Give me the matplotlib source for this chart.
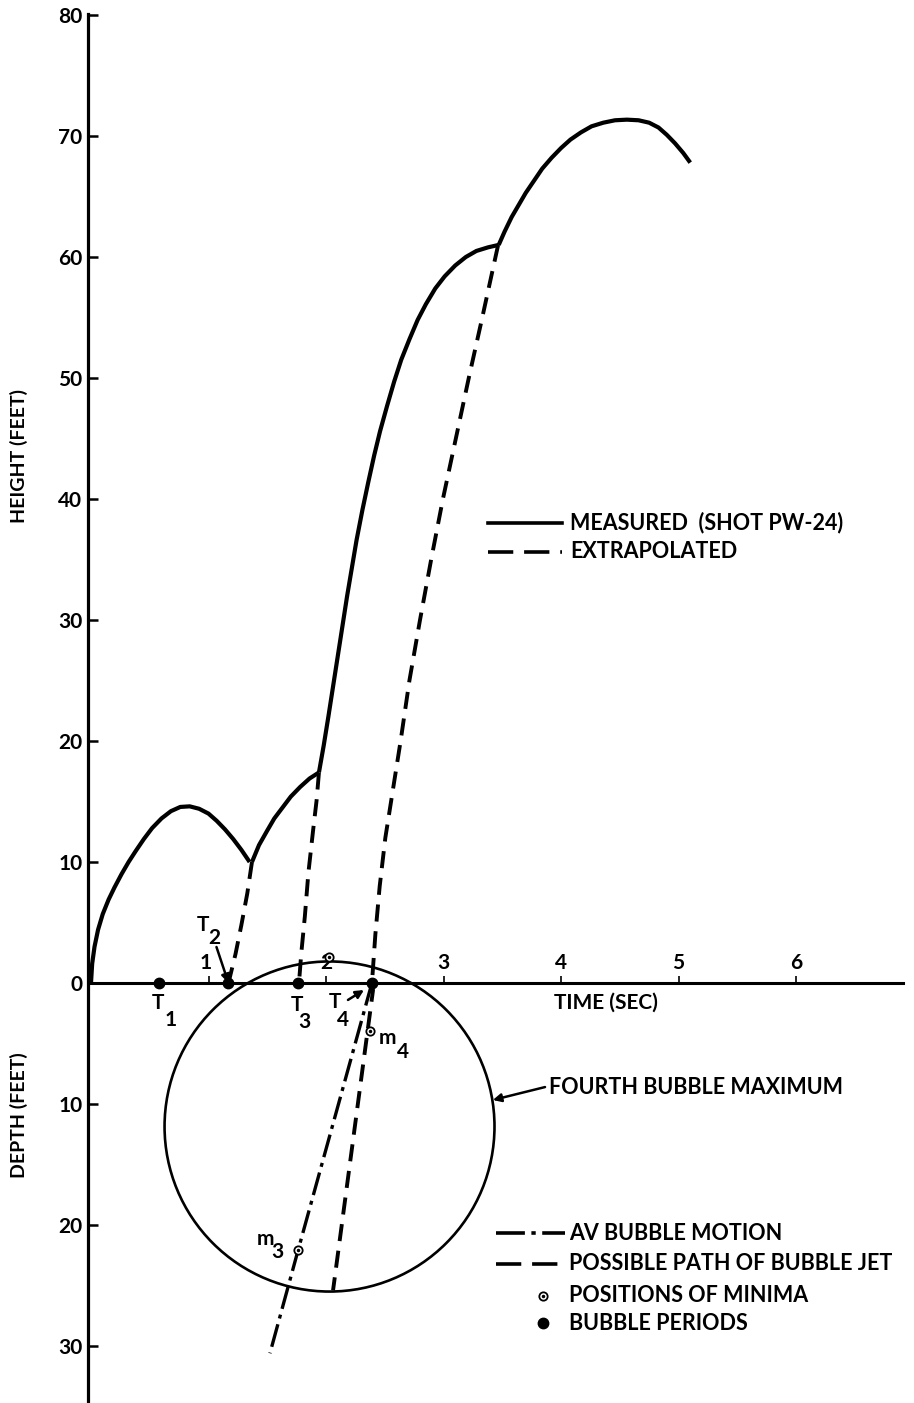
import matplotlib
matplotlib.use("Agg")
import matplotlib.pyplot as plt
from matplotlib.lines import Line2D
from matplotlib.patches import Ellipse
from matplotlib.ticker import FuncFormatter

plt.rcParams['font.family'] = ['Lato', 'DejaVu Sans']
plt.rcParams['font.weight'] = 'bold'

# measured surface height (time in sec, height in ft)
meas1_t = [0.0, 0.01, 0.03, 0.06, 0.10, 0.15, 0.20, 0.26, 0.32, 0.38, 0.45, 0.52, 0.60,
           0.68, 0.76, 0.84, 0.92, 1.00, 1.07, 1.14, 1.21, 1.28, 1.35]
meas1_h = [0.0, 1.6, 3.0, 4.4, 5.7, 6.9, 7.9, 9.0, 10.0, 10.9, 11.9, 12.8, 13.6,
           14.2, 14.55, 14.6, 14.4, 14.0, 13.4, 12.7, 11.9, 11.0, 10.0]
meas2_t = [1.37, 1.43, 1.50, 1.56, 1.63, 1.70, 1.78, 1.86, 1.94]
meas2_h = [10.0, 11.4, 12.6, 13.6, 14.5, 15.4, 16.2, 16.9, 17.4]
meas3_t = [1.94, 1.98, 2.02, 2.06, 2.10, 2.14, 2.18, 2.22, 2.26, 2.31, 2.36, 2.41, 2.46,
           2.52, 2.58, 2.64, 2.71, 2.78, 2.85, 2.93, 3.01, 3.10, 3.19, 3.28, 3.38, 3.47]
meas3_h = [17.4, 19.6, 22.0, 24.5, 27.0, 29.5, 32.0, 34.3, 36.6, 39.1, 41.4, 43.6, 45.6,
           47.7, 49.7, 51.5, 53.2, 54.8, 56.1, 57.4, 58.4, 59.3, 60.0, 60.5, 60.8, 61.0]
meas4_t = [3.47, 3.52, 3.58, 3.64, 3.70, 3.77, 3.84, 3.92, 4.00, 4.08, 4.17, 4.26, 4.36,
           4.46, 4.56, 4.66, 4.75, 4.83, 4.90, 4.97, 5.04, 5.10]
meas4_h = [61.0, 62.1, 63.3, 64.3, 65.3, 66.3, 67.3, 68.2, 69.0, 69.7, 70.3, 70.8, 71.1,
           71.3, 71.35, 71.3, 71.1, 70.7, 70.1, 69.4, 68.6, 67.8]

# extrapolated branches back to the bubble periods
ext2_t = [1.37, 1.33, 1.28, 1.23, 1.17]
ext2_h = [10.0, 7.4, 4.8, 2.4, 0.0]
ext3_t = [1.94, 1.92, 1.89, 1.85, 1.82, 1.79, 1.77]
ext3_h = [17.4, 15.1, 12.6, 9.1, 5.5, 2.5, 0.0]
ext4_t = [3.465, 3.33, 3.215, 3.105, 2.995, 2.895, 2.80, 2.71, 2.635, 2.57, 2.505, 2.457,
          2.42, 2.391]
ext4_h = [61.0, 55.0, 50.0, 45.0, 40.0, 35.0, 30.0, 25.0, 20.0, 16.0, 12.0, 8.0, 4.0, 0.0]

# jet path and average bubble motion below the surface
jet_t = [2.391, 2.40, 2.06]
jet_h = [0.0, -0.6, -25.4]
av_t = [2.391, 1.762, 1.523]
av_h = [0.0, -22.1, -30.6]

# bubble periods T1..T4 and minima m3, m4
period_t = [0.58, 1.17, 1.76, 2.391]
period_h = [0.0, 0.0, 0.0, 0.0]
minima_t = [1.762, 2.374, 2.026]
minima_h = [-22.1, -4.0, 2.15]

# fourth bubble maximum (centre time, centre height, radii)
bub_t, bub_h = 2.03, -11.86
bub_rt, bub_rh = 1.404, 13.64

height_ticks = [-30, -20, -10, 0, 10, 20, 30, 40, 50, 60, 70, 80]
time_ticks = [1, 2, 3, 4, 5, 6]

W, H = 914, 1403
fig = plt.figure(figsize=(W / 100, H / 100), dpi=100)
ax = fig.add_axes([88 / W, 0, 815 / W, 1389 / H])
ax.set_xlim(-3 / 117.5, 812 / 117.5)
ax.set_ylim(-(H - 983) / 12.1, (983 - 14) / 12.1)

for s in ['top', 'right']:
    ax.spines[s].set_visible(False)
ax.spines['left'].set_linewidth(2.3)
ax.spines['bottom'].set_position(('data', 0))
ax.spines['bottom'].set_linewidth(2.2)
ax.spines['bottom'].set_bounds(0, 812 / 117.5)

ax.set_yticks(height_ticks)
ax.yaxis.set_major_formatter(FuncFormatter(lambda v, p: f"{abs(v):.0f}"))
ax.tick_params(axis='y', direction='in', length=7, width=1.8, pad=4, labelsize=15)
ax.set_xticks(time_ticks)
ax.tick_params(axis='x', direction='in', length=5, width=1.2, labelbottom=False)
for t in time_ticks:
    ax.annotate(str(t), (t, 0), xytext=(-3 if t == 1 else 0, 20), textcoords='offset pixels',
                ha='center', va='center', fontsize=15)

# curves
lw_solid = 3.0
for tt, hh in [(meas1_t, meas1_h), (meas2_t, meas2_h), (meas3_t, meas3_h), (meas4_t, meas4_h)]:
    ax.plot(tt, hh, color='black', lw=lw_solid, solid_capstyle='butt', solid_joinstyle='round')

dash = (4.4, 2.5)
for tt, hh in [(ext2_t, ext2_h), (ext3_t, ext3_h), (ext4_t + jet_t[1:], ext4_h + jet_h[1:])]:
    ax.plot(tt, hh, color='black', lw=2.8, dashes=dash, dash_capstyle='butt')

dashdot = (7, 1.8, 1.2, 1.8)
ax.plot(av_t, av_h, color='black', lw=2.4, dashes=dashdot, dash_capstyle='butt')

ax.add_patch(Ellipse((bub_t, bub_h), 2 * bub_rt, 2 * bub_rh, fill=False, lw=1.9, ec='black'))

ax.plot(period_t, period_h, 'o', color='black', ms=7.5, zorder=5)
ax.plot(minima_t, minima_h, 'o', mfc='white', mec='black', mew=1.3, ms=6, zorder=5)
ax.plot(minima_t, minima_h, 'o', color='black', ms=1.5, zorder=6)


def sublabel(x, y, main, sub, off, soff):
    ax.annotate(main, (x, y), xytext=off, textcoords='offset pixels',
                ha='center', va='center', fontsize=15)
    ax.annotate(sub, (x, y), xytext=soff, textcoords='offset pixels',
                ha='center', va='center', fontsize=15)


sublabel(period_t[0], 0, 'T', '1', (-1, -20), (11, -37))
sublabel(period_t[1], 0, 'T', '2', (-26, 58), (-14, 45))
sublabel(period_t[2], 0, 'T', '3', (-1, -22), (7, -39))
sublabel(period_t[3], 0, 'T', '4', (-37, -19), (-29, -37))
sublabel(minima_t[1], minima_h[1], 'm', '4', (18, -7), (33, -21))
sublabel(minima_t[0], minima_h[0], 'm', '3', (-33, 11), (-21, -2))

arrow = dict(arrowstyle='-|>', color='black', lw=1.8, mutation_scale=12, shrinkA=0, shrinkB=0)
ax.annotate('', (period_t[1], 0), xytext=(-12, 36), textcoords='offset pixels',
            arrowprops=dict(arrow, relpos=(0.5, 0.5)))
ax.annotate('', (2.323, -0.58), xytext=(2.187, -1.40), arrowprops=arrow)
ax.annotate('', (bub_t + bub_rt * 0.99, -9.67), xytext=(3.864, -8.6), arrowprops=arrow)

ax.text(3.94, -1.65, 'TIME (SEC)', ha='left', va='center', fontsize=15)
ax.text(3.90, -8.6, 'FOURTH BUBBLE MAXIMUM', ha='left', va='center', fontsize=15.5)

fig.text(19 / W, 1 - 456 / H, 'HEIGHT (FEET)', rotation=90, ha='center', va='center', fontsize=14)
fig.text(19 / W, 1 - 1115 / H, 'DEPTH (FEET)', rotation=90, ha='center', va='center', fontsize=14)


def fx(px):
    return px / W


def fy(py):
    return 1 - py / H


def key_line(x0, x1, y, **kw):
    fig.add_artist(Line2D([fx(x0), fx(x1)], [fy(y), fy(y)], transform=fig.transFigure,
                          color='black', **kw))


key_line(488, 562, 523, lw=2.6)
key_line(488, 562, 552, lw=2.6, dashes=(7, 3))
fig.text(fx(570), fy(523), 'MEASURED  (SHOT PW-24)', va='center', fontsize=15.5)
fig.text(fx(570), fy(552), 'EXTRAPOLATED', va='center', fontsize=15.5)

key_line(496, 565, 1233, lw=2.6, dashes=(8, 1.8, 1.2, 1.8))
key_line(496, 565, 1264, lw=2.6, dashes=(7, 3))
fig.add_artist(Line2D([fx(543)], [fy(1296)], transform=fig.transFigure, marker='o',
                      mfc='white', mec='black', mew=1.3, ms=6))
fig.add_artist(Line2D([fx(543)], [fy(1296)], transform=fig.transFigure, marker='o',
                      color='black', ms=1.5))
fig.add_artist(Line2D([fx(543)], [fy(1323)], transform=fig.transFigure, marker='o',
                      color='black', ms=7.5))
for y, s in [(1233, 'AV BUBBLE MOTION'), (1264, 'POSSIBLE PATH OF BUBBLE JET'),
             (1296, 'POSITIONS OF MINIMA'), (1323, 'BUBBLE PERIODS')]:
    fig.text(fx(569), fy(y), s, va='center', fontsize=15.5)

fig.savefig('out.png', dpi=100, facecolor='white')
